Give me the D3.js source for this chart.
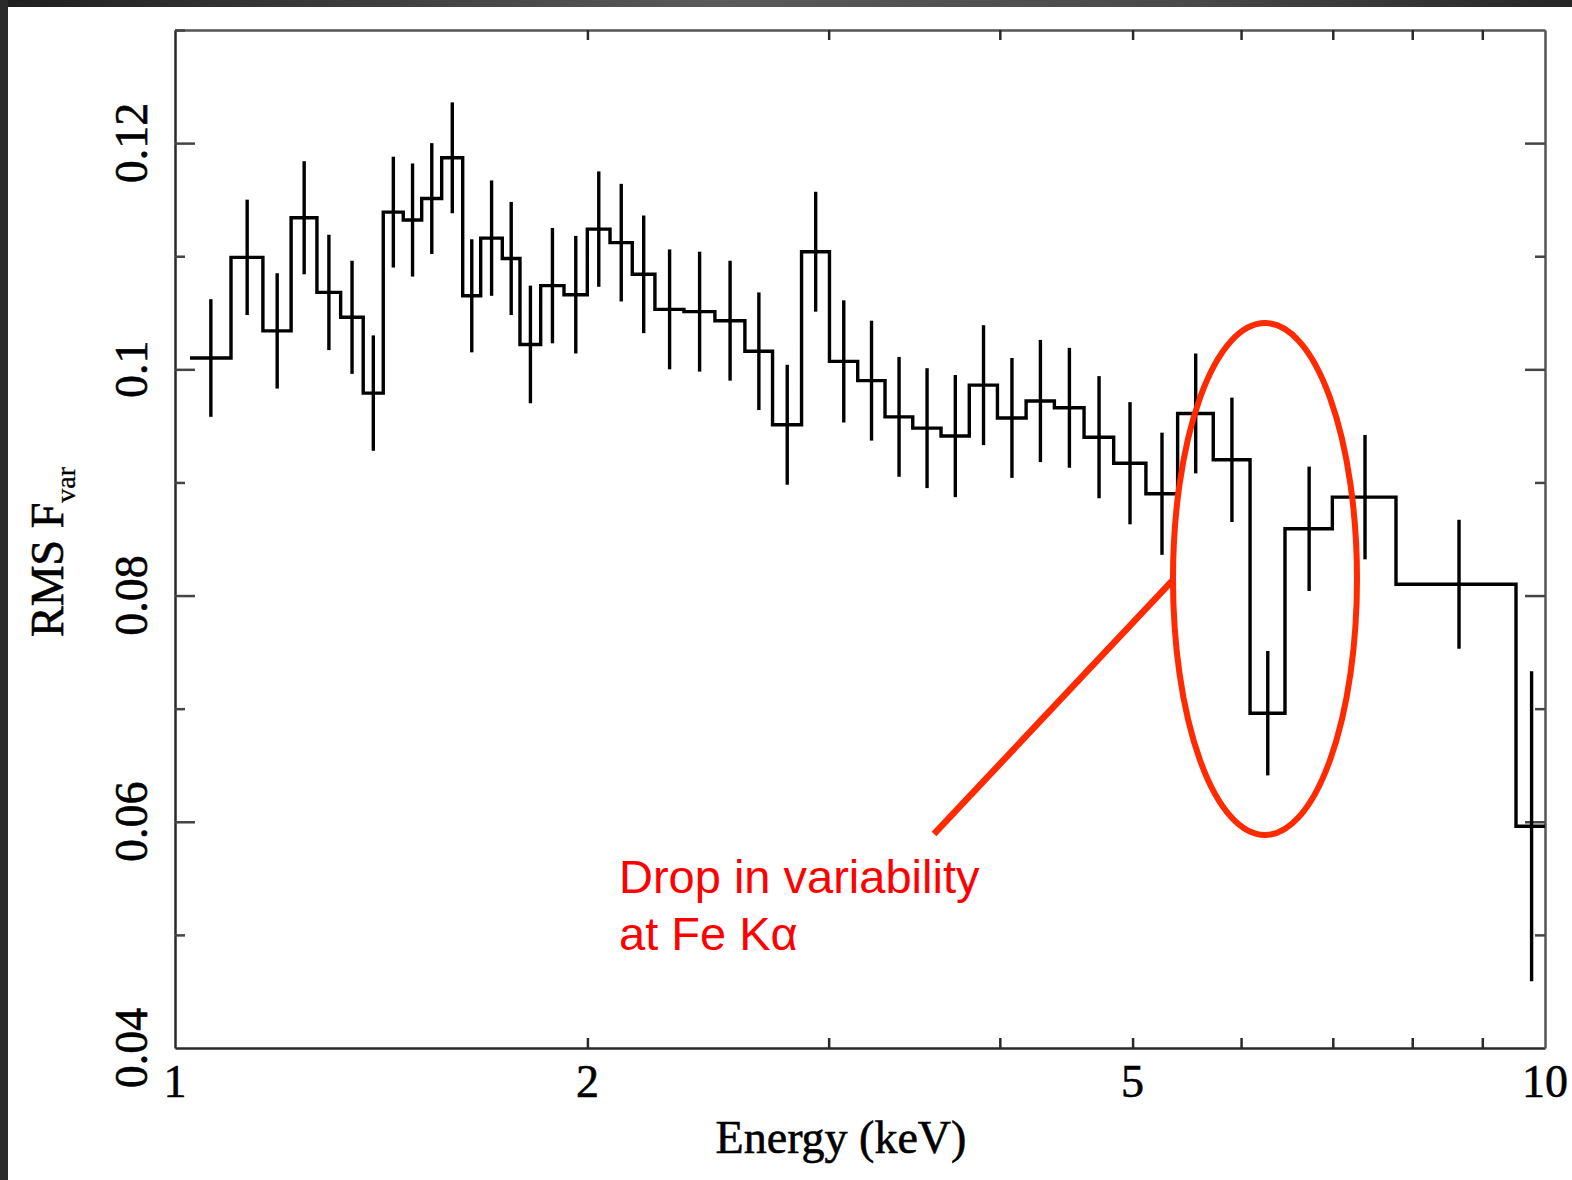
<!DOCTYPE html>
<html>
<head>
<meta charset="utf-8">
<script src="https://cdn.jsdelivr.net/npm/d3@7"></script>
<style>
  html, body { margin: 0; padding: 0; background: #fff; }
  svg { display: block; }
</style>
</head>
<body>
<svg id="chart" width="1572" height="1180"></svg>
<script>
// ---- Data ----
// Bin edges in keV (last edge extends just beyond 10 keV, clipped by the frame)
const binEdges = [1.0255, 1.0987, 1.1592, 1.2155, 1.2694, 1.3210, 1.3721, 1.4191, 1.4676, 1.5138,
  1.5655, 1.6218, 1.6716, 1.7334, 1.7857, 1.8489, 1.9228, 1.9997, 2.0774, 2.1566,
  2.2403, 2.3522, 2.4779, 2.6060, 2.7300, 2.8664, 3.0041, 3.1502, 3.2981, 3.4555,
  3.6236, 3.7999, 3.9840, 4.1807, 4.3841, 4.6083, 4.8435, 5.1133, 5.3932, 5.7260,
  6.0912, 6.4597, 6.9948, 7.7846, 9.5244, 10.03];
// RMS fractional variability per bin
const fvar = [0.1010, 0.1099, 0.1034, 0.1134, 0.1068, 0.1046, 0.0979, 0.1139, 0.1132, 0.1151,
  0.1187, 0.1065, 0.1116, 0.1098, 0.1022, 0.1074, 0.1066, 0.1124, 0.1112, 0.1084,
  0.1053, 0.1051, 0.1043, 0.1016, 0.0951, 0.1104, 0.1007, 0.0990, 0.0958, 0.0948,
  0.0941, 0.0986, 0.0957, 0.0972, 0.0966, 0.0940, 0.0917, 0.0890, 0.0961, 0.0920,
  0.0696, 0.0859, 0.0887, 0.0810, 0.0596];
// 1-sigma error (half length of error bar)
const fvarErr = [0.0052, 0.0051, 0.0051, 0.0050, 0.0051, 0.0050, 0.0051, 0.0049, 0.0050, 0.0049,
  0.0049, 0.0050, 0.0051, 0.0050, 0.0052, 0.0051, 0.0052, 0.0051, 0.0052, 0.0052,
  0.0053, 0.0053, 0.0053, 0.0052, 0.0053, 0.0053, 0.0054, 0.0053, 0.0053, 0.0053,
  0.0054, 0.0053, 0.0053, 0.0054, 0.0053, 0.0054, 0.0054, 0.0054, 0.0053, 0.0055,
  0.0055, 0.0055, 0.0055, 0.0057, 0.0137];

const xTickLabels = [1, 2, 5, 10];
const xMinorTicks = [2, 3, 4, 5, 6, 7, 8, 9];
const yLabelTicks = [0.04, 0.06, 0.08, 0.10, 0.12];
const yMinorTicks = [0.05, 0.07, 0.09, 0.11];
const yLabelText = ["0.04", "0.06", "0.08", "0.1", "0.12"];

const xTitle = "Energy (keV)";
const yTitleMain = "RMS F";
const yTitleSub = "var";
const noteLines = ["Drop in variability", "at Fe Kα"];

// ---- Layout ----
const L = 175, R = 1545, T = 30, B = 1048;
const svg = d3.select("#chart");

// slide-like dark frame on top and left
const defs = svg.append("defs");
const grad = defs.append("linearGradient").attr("id", "topband").attr("x1", "0").attr("x2", "1");
grad.append("stop").attr("offset", "0").attr("stop-color", "#1f1f1f");
grad.append("stop").attr("offset", "0.45").attr("stop-color", "#5a5a5a");
grad.append("stop").attr("offset", "0.75").attr("stop-color", "#4a4a4a");
grad.append("stop").attr("offset", "1").attr("stop-color", "#262626");
svg.append("rect").attr("x", 0).attr("y", 0).attr("width", 1572).attr("height", 7).attr("fill", "url(#topband)");
svg.append("rect").attr("x", 0).attr("y", 0).attr("width", 8).attr("height", 1180).attr("fill", "#2b2b2b");

defs.append("clipPath").attr("id", "plotclip")
  .append("rect").attr("x", L).attr("y", T).attr("width", R - L).attr("height", B - T);

const x = d3.scaleLog().domain([1, 10]).range([L, R]);
const y = d3.scaleLinear().domain([0.04, 0.13]).range([B, T]);

const serif = "'Liberation Serif', 'Times New Roman', serif";
const axColor = "#2a2a2a";

// Axes using d3 axis generators (ticks inside)
const fmtNone = () => "";
svg.append("g").attr("transform", `translate(0,${B})`)
  .call(d3.axisBottom(x).tickValues(xMinorTicks).tickSizeInner(-10).tickSizeOuter(0).tickFormat(fmtNone))
  .call(g => { g.select(".domain").attr("stroke", axColor).attr("stroke-width", 2.5);
               g.selectAll(".tick line").attr("stroke", axColor).attr("stroke-width", 2.5); });
svg.append("g").attr("transform", `translate(0,${T})`)
  .call(d3.axisTop(x).tickValues(xMinorTicks).tickSizeInner(-10).tickSizeOuter(0).tickFormat(fmtNone))
  .call(g => { g.select(".domain").attr("stroke", "#555").attr("stroke-width", 2.5);
               g.selectAll(".tick line").attr("stroke", axColor).attr("stroke-width", 2.5); });
// y major
svg.append("g").attr("transform", `translate(${L},0)`)
  .call(d3.axisLeft(y).tickValues(yLabelTicks.slice(1)).tickSizeInner(-20).tickSizeOuter(0).tickFormat(fmtNone))
  .call(g => { g.select(".domain").attr("stroke", axColor).attr("stroke-width", 2.5);
               g.selectAll(".tick line").attr("stroke", "#444").attr("stroke-width", 2.5); });
svg.append("g").attr("transform", `translate(${L},0)`)
  .call(d3.axisLeft(y).tickValues(yMinorTicks.concat([0.13])).tickSizeInner(-10).tickSizeOuter(0).tickFormat(fmtNone))
  .call(g => { g.select(".domain").remove();
               g.selectAll(".tick line").attr("stroke", "#444").attr("stroke-width", 2.5); });
svg.append("g").attr("transform", `translate(${R},0)`)
  .call(d3.axisRight(y).tickValues(yLabelTicks.slice(1)).tickSizeInner(-20).tickSizeOuter(0).tickFormat(fmtNone))
  .call(g => { g.select(".domain").attr("stroke", "#555").attr("stroke-width", 2.5);
               g.selectAll(".tick line").attr("stroke", "#444").attr("stroke-width", 2.5); });
svg.append("g").attr("transform", `translate(${R},0)`)
  .call(d3.axisRight(y).tickValues(yMinorTicks).tickSizeInner(-10).tickSizeOuter(0).tickFormat(fmtNone))
  .call(g => { g.select(".domain").remove();
               g.selectAll(".tick line").attr("stroke", "#444").attr("stroke-width", 2.5); });

// tick labels
svg.append("g").selectAll("text").data(xTickLabels).join("text")
  .attr("x", d => x(d)).attr("y", 1097)
  .attr("text-anchor", "middle")
  .attr("font-family", serif).attr("font-size", 46).attr("fill", "#000")
  .attr("stroke", "#000").attr("stroke-width", 0.6)
  .text(d => String(d));
svg.append("g").selectAll("text").data(yLabelTicks).join("text")
  .attr("transform", d => `translate(147,${y(d)}) rotate(-90)`)
  .attr("text-anchor", "middle")
  .attr("font-family", serif).attr("font-size", 46).attr("fill", "#000")
  .attr("stroke", "#000").attr("stroke-width", 0.6)
  .text((d, i) => yLabelText[i]);

// axis titles
svg.append("text").attr("x", 841).attr("y", 1153).attr("text-anchor", "middle")
  .attr("font-family", serif).attr("font-size", 46).attr("fill", "#000")
  .attr("stroke", "#000").attr("stroke-width", 0.6).text(xTitle);
const yt = svg.append("text").attr("transform", "translate(63,552) rotate(-90)")
  .attr("text-anchor", "middle")
  .attr("font-family", serif).attr("font-size", 46).attr("fill", "#000")
  .attr("stroke", "#000").attr("stroke-width", 0.6);
yt.append("tspan").text(yTitleMain);
yt.append("tspan").attr("font-size", 28).attr("dy", 12).attr("stroke-width", 0.3).text(yTitleSub);

// ---- Data marks ----
const plot = svg.append("g").attr("clip-path", "url(#plotclip)");
const stepPts = fvar.map((v, i) => [binEdges[i], v]);
stepPts.push([binEdges[binEdges.length - 1], fvar[fvar.length - 1]]);
const stepLine = d3.line().x(d => x(d[0])).y(d => y(d[1])).curve(d3.curveStepAfter);
plot.append("path").attr("d", stepLine(stepPts))
  .attr("fill", "none").attr("stroke", "#000").attr("stroke-width", 3.4)
  .attr("stroke-linejoin", "miter");

const bins = fvar.map((v, i) => ({ lo: binEdges[i], hi: binEdges[i + 1], v, e: fvarErr[i] }));
plot.append("g").selectAll("line").data(bins).join("line")
  .attr("x1", d => x((d.lo + d.hi) / 2)).attr("x2", d => x((d.lo + d.hi) / 2))
  .attr("y1", d => y(d.v - d.e)).attr("y2", d => y(d.v + d.e))
  .attr("stroke", "#000").attr("stroke-width", 3.4);

// ---- Annotation ----
const red = "#ff2a00";
svg.append("ellipse").attr("cx", 1265).attr("cy", 579).attr("rx", 92).attr("ry", 256)
  .attr("fill", "none").attr("stroke", red).attr("stroke-width", 6);
svg.append("line").attr("x1", 1172).attr("y1", 581).attr("x2", 934).attr("y2", 834)
  .attr("stroke", red).attr("stroke-width", 6.5);
svg.append("g").selectAll("text").data(noteLines).join("text")
  .attr("x", 619).attr("y", (d, i) => 893 + i * 57)
  .attr("font-family", "'Liberation Sans', Arial, sans-serif").attr("font-size", 47)
  .attr("fill", "#ff0000").text(d => d);
</script>
</body>
</html>
